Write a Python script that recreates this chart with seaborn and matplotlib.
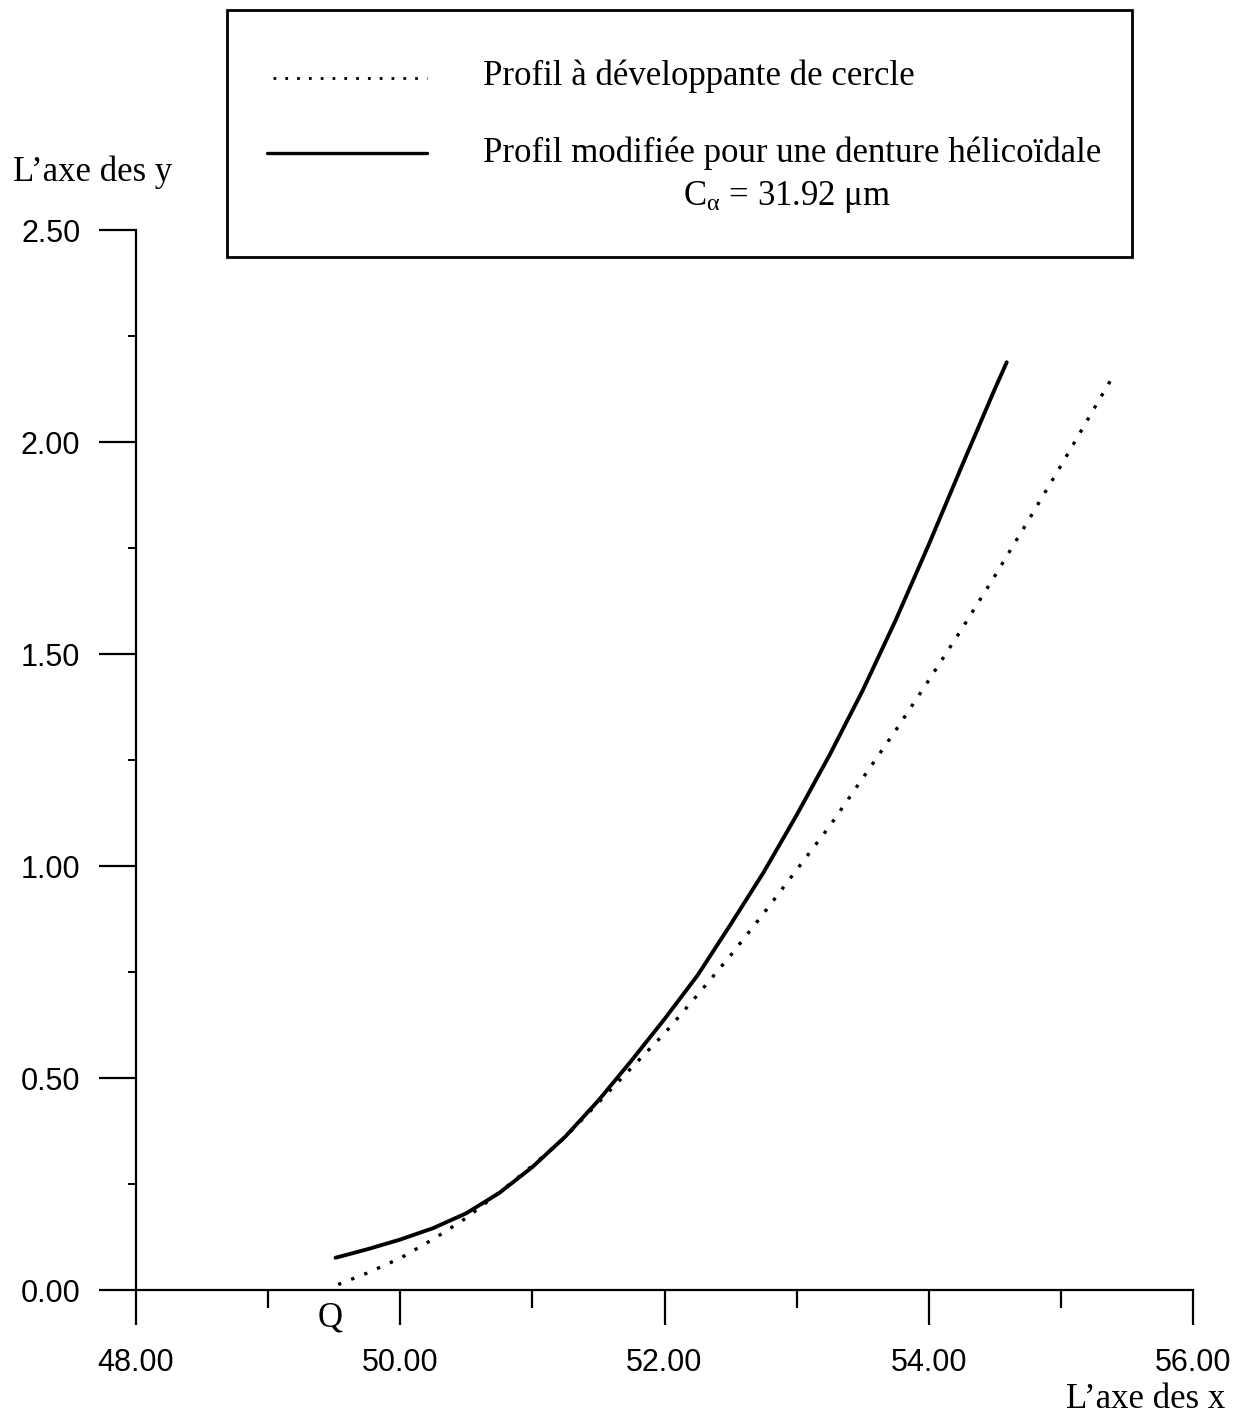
import numpy as np
import pandas as pd
import matplotlib
matplotlib.use("Agg")
import matplotlib.pyplot as plt
from matplotlib.lines import Line2D
from matplotlib.patches import Rectangle
from matplotlib.ticker import MultipleLocator, FormatStrFormatter
import seaborn as sns

# Profil a developpante de cercle (pointille)
X_DEV = [49.53, 49.75, 50.00, 50.25, 50.50, 50.75, 51.00, 51.25, 51.50, 51.75,
         52.00, 52.25, 52.50, 52.75, 53.00, 53.25, 53.50, 53.75, 54.00, 54.25,
         54.50, 54.75, 55.00, 55.25, 55.40]
Y_DEV = [0.013, 0.040, 0.075, 0.120, 0.170, 0.230, 0.293, 0.361, 0.442, 0.524,
         0.605, 0.696, 0.789, 0.888, 0.991, 1.094, 1.207, 1.320, 1.438, 1.559,
         1.684, 1.813, 1.944, 2.078, 2.158]

# Profil modifie pour une denture helicoidale (trait plein)
X_MOD = [49.51, 49.75, 50.00, 50.25, 50.50, 50.75, 51.00, 51.25, 51.50, 51.75,
         52.00, 52.25, 52.50, 52.75, 53.00, 53.25, 53.50, 53.75, 54.00, 54.25,
         54.50, 54.59]
Y_MOD = [0.076, 0.096, 0.119, 0.146, 0.181, 0.229, 0.290, 0.362, 0.447, 0.541,
         0.639, 0.742, 0.862, 0.985, 1.120, 1.262, 1.414, 1.580, 1.758, 1.943,
         2.125, 2.188]

X_TICKS = [48, 50, 52, 54, 56]
Y_TICKS = [0.0, 0.5, 1.0, 1.5, 2.0, 2.5]

LABEL_DEV = "Profil à développante de cercle"
LABEL_MOD = "Profil modifiée pour une denture hélicoïdale"
LABEL_CA = r"C$_{\mathrm{\alpha}}$ = 31.92 μm"

sns.set_style("ticks", {"axes.edgecolor": "black", "xtick.color": "black",
                        "ytick.color": "black", "text.color": "black",
                        "axes.labelcolor": "black"})
plt.rcParams['font.family'] = ['Liberation Sans', 'DejaVu Sans']
plt.rcParams['mathtext.fontset'] = 'custom'
plt.rcParams['mathtext.rm'] = 'Liberation Serif'
plt.rcParams['mathtext.it'] = 'Liberation Serif'

W, H = 1238, 1417
fig = plt.figure(figsize=(W / 100, H / 100), dpi=100)
ax = fig.add_axes([136 / W, 1 - 1290 / H, (1193 - 136) / W, (1290 - 230) / H])

df_dev = pd.DataFrame({"x": X_DEV, "y": Y_DEV})
df_mod = pd.DataFrame({"x": X_MOD, "y": Y_MOD})
sns.lineplot(data=df_dev, x="x", y="y", ax=ax, color="black", lw=2.4,
             linestyle=(0, (1, 3.2)), estimator=None, sort=False)
sns.lineplot(data=df_mod, x="x", y="y", ax=ax, color="black", lw=2.8,
             estimator=None, sort=False)

ax.set_xlim(48, 56)
ax.set_ylim(0, 2.5)
ax.set_xlabel("")
ax.set_ylabel("")
sns.despine(ax=ax)
for s in ["left", "bottom"]:
    ax.spines[s].set_linewidth(1.6)

ax.set_xticks(X_TICKS)
ax.set_yticks(Y_TICKS)
ax.xaxis.set_minor_locator(MultipleLocator(1))
ax.yaxis.set_minor_locator(MultipleLocator(0.25))
ax.xaxis.set_major_formatter(FormatStrFormatter("%.2f"))
ax.yaxis.set_major_formatter(FormatStrFormatter("%.2f"))
ax.tick_params(axis="x", which="major", length=25, width=1.6, pad=17, labelsize=22)
ax.tick_params(axis="x", which="minor", length=13, width=1.6)
ax.tick_params(axis="y", which="major", length=27, width=1.6, pad=13, labelsize=22)
ax.tick_params(axis="y", which="minor", length=6, width=1.4)

serif = ['Liberation Serif', 'DejaVu Serif']
ax.annotate("Q", xy=(49.5, 0), xytext=(-3, -20), textcoords="offset points",
            ha="center", va="center", fontsize=25, family=serif)

fig.text(13 / W, 1 - 172 / H, "L’axe des y", ha="left", va="center",
         fontsize=25, family=serif)
fig.text(1225 / W, 1 - 1400 / H, "L’axe des x", ha="right", va="center",
         fontsize=25, family=serif)

# legend box drawn by hand to keep the original layout
fig.add_artist(Rectangle((227 / W, 1 - 257 / H), (1132 - 227) / W, (257 - 10) / H,
                         transform=fig.transFigure, fill=False, lw=2, ec="black"))
fig.add_artist(Line2D([273 / W, 427 / W], [1 - 78 / H, 1 - 78 / H],
                      transform=fig.transFigure, color="black", lw=2,
                      linestyle=(0, (1, 3.25))))
fig.add_artist(Line2D([267 / W, 427 / W], [1 - 153 / H, 1 - 153 / H],
                      transform=fig.transFigure, color="black", lw=2.4))
fig.text(483 / W, 1 - 76 / H, LABEL_DEV, ha="left", va="center",
         fontsize=25, family=serif)
fig.text(483 / W, 1 - 153 / H, LABEL_MOD, ha="left", va="center",
         fontsize=25, family=serif)
fig.text(787 / W, 1 - 197 / H, LABEL_CA, ha="center", va="center",
         fontsize=25, family=serif)

fig.savefig("out.png", dpi=100, facecolor="white")
